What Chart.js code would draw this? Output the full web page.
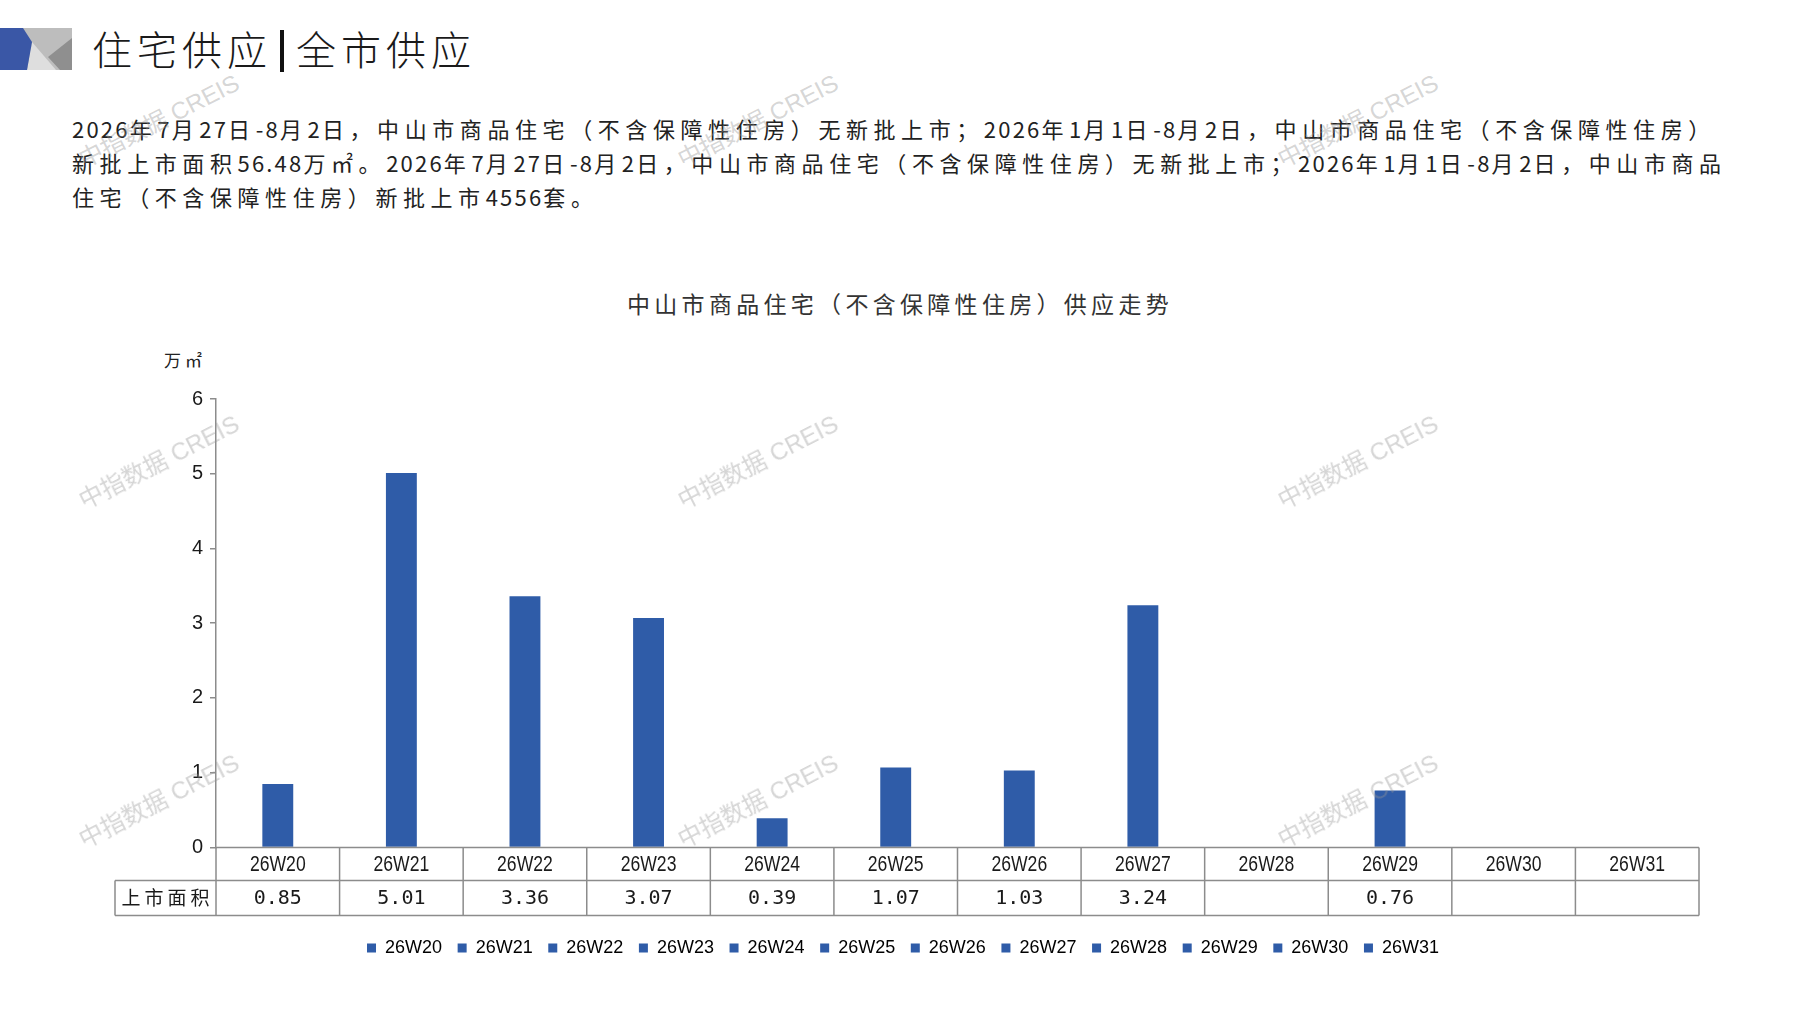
<!DOCTYPE html>
<html lang="zh-CN">
<head>
<meta charset="utf-8">
<title>住宅供应|全市供应</title>
<script src="https://cdn.jsdelivr.net/npm/chart.js@4.4.1/dist/chart.umd.min.js"></script>
<style>
  html, body { margin: 0; padding: 0; background: #fff; }
  body { width: 1797px; height: 1010px; position: relative; overflow: hidden;
         font-family: "Noto Sans CJK SC", sans-serif; color: #222; }
  .logo { position: absolute; left: 0; top: 0; }
  .head { position: absolute; left: 92px; top: 20px; font-size: 40px; line-height: 56px;
          letter-spacing: 5px; white-space: nowrap; color: #1a1a1a; font-weight: 300; }
  .head .sep { display: inline-block; width: 4px; height: 42px; background: #111;
               vertical-align: -7px; margin: 0 12px 0 8px; }
  .para { position: absolute; left: 72px; top: 111px; font-size: 22px; line-height: 34px;
          letter-spacing: 5.58px; white-space: nowrap; color: #222; }
  .para .n { letter-spacing: 2.2px; }
  .ctitle { position: absolute; left: 0; top: 287px; width: 1800px; text-align: center;
            font-size: 23px; line-height: 32px; letter-spacing: 4.3px; color: #333; }
  .unit { position: absolute; left: 164px; top: 349px; font-size: 17px; line-height: 22px;
          letter-spacing: 4px; color: #222; }
  .wrap { position: absolute; left: 0; top: 380px; width: 1797px; height: 630px; }
  .wm { position: absolute; transform: translate(-50%, -50%) rotate(-27deg); white-space: nowrap;
        font-family: "Liberation Sans", "Noto Sans CJK SC", sans-serif; font-size: 24px;
        color: rgba(150, 150, 150, 0.4); pointer-events: none; }
</style>
</head>
<body>
<svg class="logo" width="80" height="80">
  <rect x="22" y="28" width="50" height="42" fill="#bdbdbd"/>
  <polygon points="32,42 27,70 56,70" fill="#dedede"/>
  <polygon points="48,57 72,38 72,70 60,70" fill="#8f8f8f"/>
  <polygon points="0,28 23,28 32,42 27,70 0,70" fill="#3a57a6"/>
</svg>
<div class="head">住宅供应<span class="sep"></span>全市供应</div>
<div class="para" id="para"></div>
<div class="ctitle">中山市商品住宅（不含保障性住房）供应走势</div>
<div class="unit">万㎡</div>
<div class="wrap"><canvas id="supplyChart"></canvas></div>

<div class="wm" style="left:158px;top:119px">中指数据 CREIS</div>
<div class="wm" style="left:757px;top:119px">中指数据 CREIS</div>
<div class="wm" style="left:1357px;top:119px">中指数据 CREIS</div>
<div class="wm" style="left:158px;top:460px">中指数据 CREIS</div>
<div class="wm" style="left:757px;top:460px">中指数据 CREIS</div>
<div class="wm" style="left:1357px;top:460px">中指数据 CREIS</div>
<div class="wm" style="left:158px;top:799px">中指数据 CREIS</div>
<div class="wm" style="left:757px;top:799px">中指数据 CREIS</div>
<div class="wm" style="left:1357px;top:799px">中指数据 CREIS</div>

<script>
// 数据
const weeks = ['26W20', '26W21', '26W22', '26W23', '26W24', '26W25',
               '26W26', '26W27', '26W28', '26W29', '26W30', '26W31'];
const supplyArea = [0.85, 5.01, 3.36, 3.07, 0.39, 1.07, 1.03, 3.24, null, 0.76, null, null];
const yTicks = [0, 1, 2, 3, 4, 5, 6];
const rowLabel = '上市面积';

const paraLines = [
    '2026年7月27日-8月2日，中山市商品住宅（不含保障性住房）无新批上市；2026年1月1日-8月2日，中山市商品住宅（不含保障性住房）',
    '新批上市面积56.48万㎡。2026年7月27日-8月2日，中山市商品住宅（不含保障性住房）无新批上市；2026年1月1日-8月2日，中山市商品',
    '住宅（不含保障性住房）新批上市4556套。'
];

const barColor = '#2f5ca8';
const lineColor = '#8c8c8c';

// 数字部分单独设字距
document.getElementById('para').innerHTML = paraLines
    .map(l => l.replace(/[0-9.\-]+/g, m => '<span class="n">' + m + '</span>'))
    .join('<br>');

// 图表下方的数据表
const dataTable = {
    id: 'dataTable',
    afterDraw(chart) {
        const { ctx, chartArea, scales: { x } } = chart;
        const top = chartArea.bottom;
        const mid = top + 33;
        const bottom = top + 68;
        const half = (x.getPixelForValue(1) - x.getPixelForValue(0)) / 2;
        const left = chartArea.left;
        const right = chartArea.right;
        const labelLeft = left - 101;

        ctx.save();
        ctx.strokeStyle = lineColor;
        ctx.lineWidth = 1.5;
        ctx.beginPath();
        ctx.moveTo(left, top); ctx.lineTo(right, top);
        ctx.moveTo(labelLeft, mid); ctx.lineTo(right, mid);
        ctx.moveTo(labelLeft, bottom); ctx.lineTo(right, bottom);
        ctx.moveTo(labelLeft, mid); ctx.lineTo(labelLeft, bottom);
        weeks.forEach((w, i) => {
            const b = x.getPixelForValue(i) - half;
            ctx.moveTo(b, top); ctx.lineTo(b, bottom);
        });
        ctx.moveTo(right, top); ctx.lineTo(right, bottom);
        ctx.stroke();

        ctx.fillStyle = '#1a1a1a';
        ctx.textAlign = 'center';
        ctx.textBaseline = 'middle';
        // 周次标签：窄体效果
        ctx.font = '22px "Liberation Sans", sans-serif';
        weeks.forEach((w, i) => {
            ctx.save();
            ctx.translate(x.getPixelForValue(i), (top + mid) / 2 + 1);
            ctx.scale(0.8, 1);
            ctx.fillText(w, 0, 0);
            ctx.restore();
        });
        ctx.font = '20px "DejaVu Sans Mono", monospace';
        supplyArea.forEach((v, i) => {
            if (v === null) return;
            ctx.fillText(v.toFixed(2), x.getPixelForValue(i), (mid + bottom) / 2 + 1);
        });
        ctx.font = '19px "Noto Sans CJK SC", sans-serif';
        ctx.letterSpacing = '4px';
        ctx.fillText(rowLabel, (labelLeft + left) / 2 + 2, (mid + bottom) / 2);
        ctx.restore();
    }
};

const ctx = document.getElementById('supplyChart').getContext('2d');
new Chart(ctx, {
    type: 'bar',
    data: {
        labels: weeks,
        datasets: [{
            label: rowLabel,
            data: supplyArea,
            backgroundColor: barColor,
            barPercentage: 0.25,
            categoryPercentage: 1
        }]
    },
    options: {
        responsive: true,
        maintainAspectRatio: false,
        animation: false,
        layout: { padding: { top: 19, left: 107, right: 98, bottom: 43 } },
        scales: {
            x: {
                grid: { display: false },
                border: { display: false },
                ticks: { display: false },
                afterFit(scale) { scale.height = 76; }
            },
            y: {
                min: yTicks[0],
                max: yTicks[yTicks.length - 1],
                afterBuildTicks(scale) { scale.ticks = yTicks.map(v => ({ value: v })); },
                afterFit(scale) { scale.width = 109; },
                grid: { drawOnChartArea: false, drawTicks: true, tickLength: 6, color: lineColor, lineWidth: 1.5 },
                border: { color: lineColor, width: 1.5 },
                ticks: {
                    color: '#1a1a1a',
                    padding: 7,
                    font: { family: '"Liberation Sans", sans-serif', size: 20 }
                }
            }
        },
        plugins: {
            tooltip: { enabled: false },
            legend: {
                position: 'bottom',
                onClick: null,
                labels: {
                    boxWidth: 9,
                    boxHeight: 9,
                    padding: 15.6,
                    color: '#1a1a1a',
                    font: { family: '"Liberation Sans", sans-serif', size: 18 },
                    generateLabels: () => weeks.map(w => ({
                        text: w,
                        fillStyle: barColor,
                        strokeStyle: barColor,
                        lineWidth: 0
                    }))
                }
            }
        }
    },
    plugins: [dataTable]
});
</script>
</body>
</html>
